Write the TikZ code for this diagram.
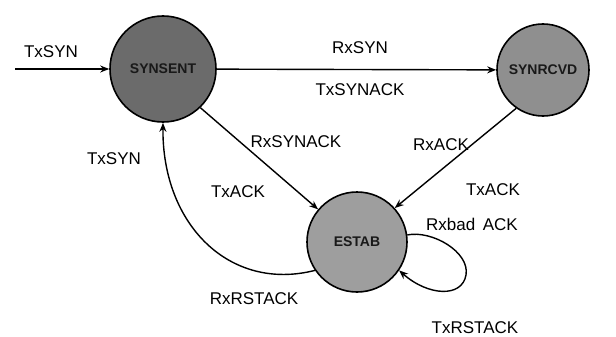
\documentclass[tikz,border=0pt]{standalone}
\usepackage{fontspec}
\setmainfont{Liberation Sans}
\usetikzlibrary{arrows.meta}
\begin{document}
\begin{tikzpicture}[x=1pt,y=-1pt,
  state/.style={circle,draw=black,line width=1.6pt,inner sep=0pt,
    font=\fontsize{14}{16}\selectfont\bfseries,text=black!90},
  edge/.style={line width=1.4pt,-{Stealth[length=9pt,width=7pt]}},
  lbl/.style={font=\fontsize{17}{20}\selectfont,inner sep=0pt}]
\useasboundingbox (0,0) rectangle (616,337);
\node[state,fill=black!58,minimum size=106pt] (s1) at (163,69) {SYNSENT};
\node[state,fill=black!44,minimum size=92pt] (s2) at (543,70) {SYNRCVD};
\node[state,fill=black!38,minimum size=100pt] (s3) at (357,242) {ESTAB};
\coordinate (start) at (15,69);
\draw[edge] (start) -- (s1.west);
\draw[edge] (s1) -- (s2);
\draw[edge] (s1.-46) -- (s3.140);
\draw[edge] (s2.-125) -- (s3.42);
\draw[edge] (s3.214) .. controls (230,292) and (162,225) .. (s1.south);
\draw[edge] (s3.8) .. controls (432,230) and (470,252) .. (466,275)
  .. controls (462,298) and (428,296) .. (s3.-34);
\node[lbl] (l1) at (51,52) {TxSYN};
\node[lbl] (l2) at (360,48) {RxSYN};
\node[lbl] (l3) at (360,90) {TxSYNACK};
\node[lbl] (l4) at (296,142) {RxSYNACK};
\node[lbl] (l5) at (238,192) {TxACK};
\node[lbl] (l6) at (114,159) {TxSYN};
\node[lbl] (l7) at (254,299) {RxRSTACK};
\node[lbl] (l8) at (441,145) {RxACK};
\node[lbl] (l9) at (493,190) {TxACK};
\node[lbl] (l10) at (472,224) {Rxbad\, ACK};
\node[lbl] (l11) at (475,328) {TxRSTACK};
\end{tikzpicture}
\end{document}
